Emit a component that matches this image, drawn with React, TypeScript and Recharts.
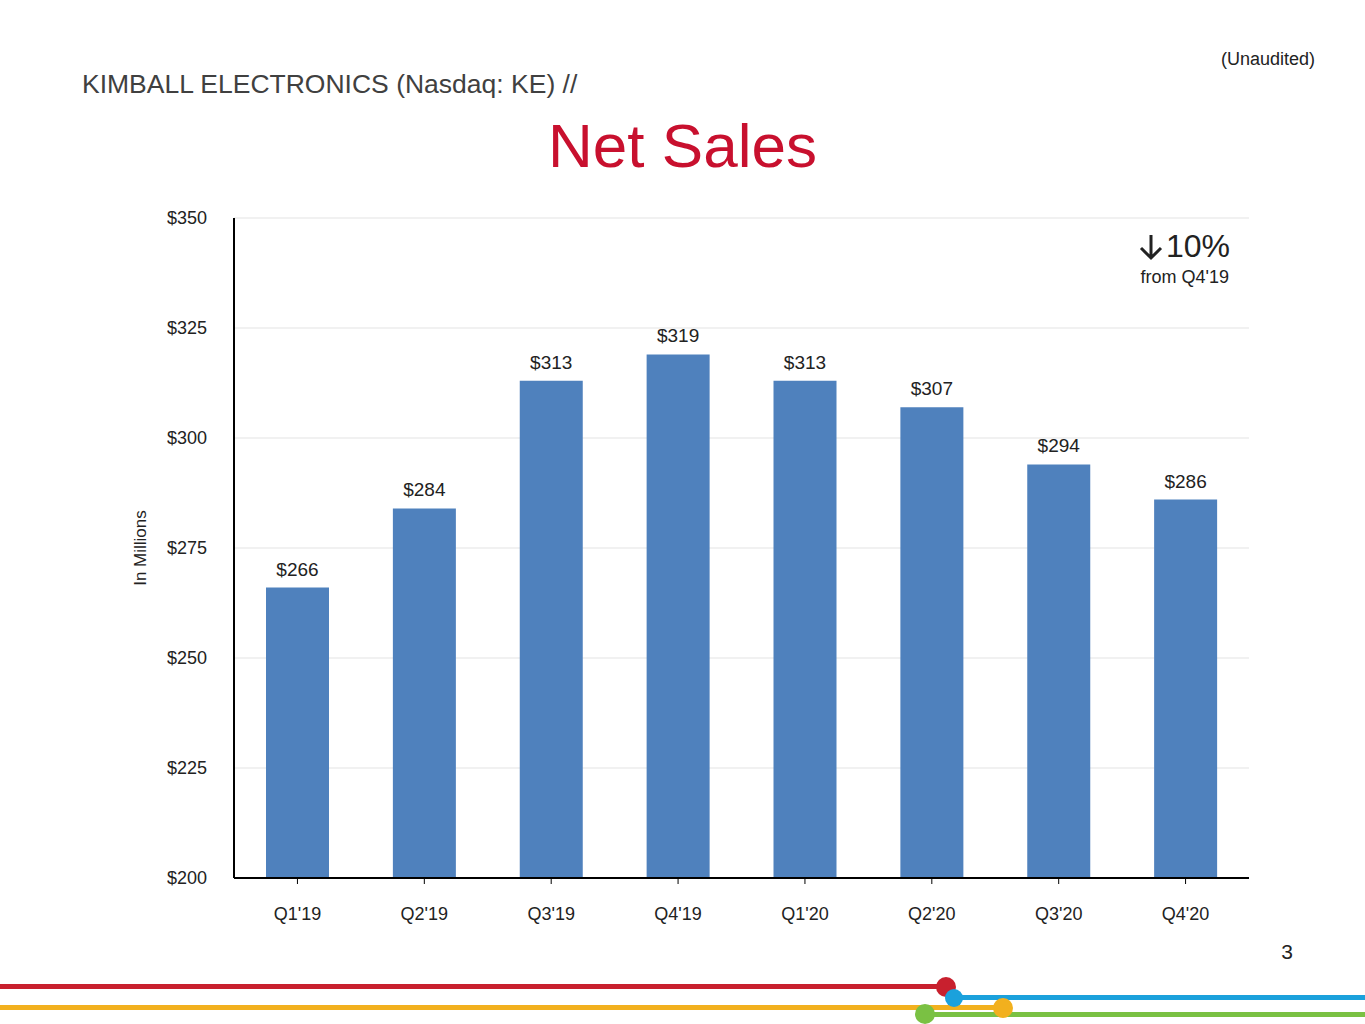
import React from "react"
import { BarChart, Bar, XAxis, YAxis, CartesianGrid, LabelList } from "recharts"

const quarters = ["Q1'19", "Q2'19", "Q3'19", "Q4'19", "Q1'20", "Q2'20", "Q3'20", "Q4'20"]
const netSales = [266, 284, 313, 319, 313, 307, 294, 286]
const yTicks = [200, 225, 250, 275, 300, 325, 350]

const data = quarters.map((q, i) => ({ q, sales: netSales[i] }))
const FONT = "'Liberation Sans', Arial, sans-serif"

export default function App() {
  return (
    <div style={{ position: "absolute", left: 0, top: 0, width: 1365, height: 1024, background: "#fff", fontFamily: FONT, overflow: "hidden" }}>
      <div style={{ position: "absolute", left: 82, top: 69, fontSize: 26.5, color: "#404040" }}>KIMBALL ELECTRONICS (Nasdaq: KE) //</div>
      <div style={{ position: "absolute", right: 50, top: 49, fontSize: 18, color: "#222" }}>(Unaudited)</div>
      <div style={{ position: "absolute", left: 0, width: 1365, top: 110, textAlign: "center", fontSize: 62, color: "#C8102E" }}>Net Sales</div>
      <div style={{ position: "absolute", right: 135, top: 228, fontSize: 32, color: "#222", display: "flex", alignItems: "center" }}>
        <svg width="26" height="28" viewBox="0 0 26 28" style={{ marginRight: 2 }}>
          <path d="M13 2 V25 M3 15 L13 25 L23 15" stroke="#222" strokeWidth="3" fill="none" />
        </svg>
        10%
      </div>
      <div style={{ position: "absolute", right: 136, top: 267, fontSize: 18, color: "#222" }}>from Q4'19</div>
      <div style={{ position: "absolute", left: 141, top: 548, fontSize: 17, color: "#222", transform: "translate(-50%,-50%) rotate(-90deg)", whiteSpace: "nowrap" }}>In Millions</div>
      <div style={{ position: "absolute", right: 72, top: 940, fontSize: 21, color: "#222" }}>3</div>
      <BarChart width={1365} height={1024} data={data} margin={{ top: 218, left: 164, right: 116, bottom: 116 }} style={{ position: "absolute", left: 0, top: 0 }}>
        <CartesianGrid vertical={false} stroke="#e3e3e3" />
        <XAxis dataKey="q" height={30} tickSize={6} tickMargin={23} axisLine={{ stroke: "#000", strokeWidth: 2 }} tickLine={{ stroke: "#000" }} tick={{ fill: "#222", fontSize: 18 }} />
        <YAxis domain={[200, 350]} ticks={yTicks} width={70} tickSize={0} tickMargin={27} axisLine={{ stroke: "#000", strokeWidth: 2 }} tickFormatter={(v) => `$${v}`} tick={{ fill: "#222", fontSize: 18 }} />
        <Bar dataKey="sales" fill="#4F81BD" barSize={63} isAnimationActive={false}>
          <LabelList dataKey="sales" position="top" offset={12} formatter={(v: any) => `$${v}`} style={{ fill: "#222", fontSize: 19 }} />
        </Bar>
      </BarChart>
      <div style={{ position: "absolute", left: 0, top: 984, width: 946, height: 5, background: "#C8202E" }} />
      <div style={{ position: "absolute", left: 954, top: 995, width: 411, height: 5, background: "#1BA1DC" }} />
      <div style={{ position: "absolute", left: 0, top: 1005, width: 1003, height: 5, background: "#F2B01E" }} />
      <div style={{ position: "absolute", left: 925, top: 1012, width: 440, height: 5, background: "#7AC143" }} />
      <div style={{ position: "absolute", left: 936, top: 977, width: 20, height: 20, borderRadius: 10, background: "#C8202E" }} />
      <div style={{ position: "absolute", left: 945, top: 989, width: 18, height: 18, borderRadius: 9, background: "#1BA1DC" }} />
      <div style={{ position: "absolute", left: 993, top: 998, width: 20, height: 20, borderRadius: 10, background: "#F2B01E" }} />
      <div style={{ position: "absolute", left: 915, top: 1004, width: 20, height: 20, borderRadius: 10, background: "#7AC143" }} />
    </div>
  )
}
